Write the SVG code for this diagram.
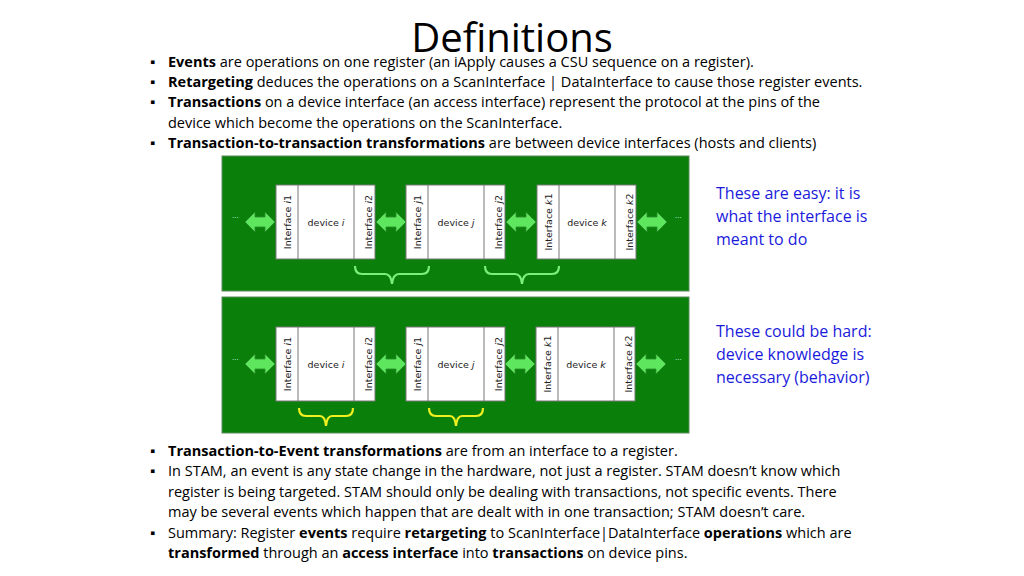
<svg xmlns="http://www.w3.org/2000/svg" width="1024" height="576" viewBox="0 0 1024 576">
<defs>
<style>
.t{font-family:"Open Sans","Liberation Sans",sans-serif;font-size:14.5px;fill:#000}
.b{font-weight:bold}
.bl{font-family:"Open Sans","Liberation Sans",sans-serif;font-size:16px;fill:#1a1adc}
.panel{fill:#0a800a;stroke:#5a8a5a;stroke-width:1}
.box{fill:#fff;stroke:#777;stroke-width:1}
.lbl{font-family:"DejaVu Sans","Liberation Sans",sans-serif;font-size:9.5px;fill:#222}
.arr{fill:#5ee65e;stroke:#2a8a2a;stroke-width:0.8}
.dots{font-family:"Liberation Sans",sans-serif;font-size:8px;fill:#cfe}
.br1{fill:none;stroke:#7cf07c;stroke-width:2.2}
.br2{fill:none;stroke:#f0f020;stroke-width:2.2}
</style>
<g id="dev">
<rect class="box" x="0" y="0" width="99" height="74"/>
<line x1="22" y1="0" x2="22" y2="74" stroke="#777"/>
<line x1="78" y1="0" x2="78" y2="74" stroke="#777"/>
</g>
<path id="arrow" class="arr" d="M0,0 L10,-10 L10,-5 L20,-5 L20,-10 L30,0 L20,10 L20,5 L10,5 L10,10 Z"/>
</defs>
<text x="512" y="52" text-anchor="middle" font-family="'Open Sans','Liberation Sans',sans-serif" font-size="40">Definitions</text>
<g class="t">
<text x="150" y="67">▪</text><text x="168" y="67"><tspan class="b">Events</tspan> are operations on one register (an iApply causes a CSU sequence on a register).</text>
<text x="150" y="87">▪</text><text x="168" y="87"><tspan class="b">Retargeting</tspan> deduces the operations on a ScanInterface | DataInterface to cause those register events.</text>
<text x="150" y="107">▪</text><text x="168" y="107"><tspan class="b">Transactions</tspan> on a device interface (an access interface) represent the protocol at the pins of the</text>
<text x="168" y="128">device which become the operations on the ScanInterface.</text>
<text x="150" y="148">▪</text><text x="168" y="148"><tspan class="b">Transaction-to-transaction transformations</tspan> are between device interfaces (hosts and clients)</text>
<text x="150" y="456">▪</text><text x="168" y="456"><tspan class="b">Transaction-to-Event transformations</tspan> are from an interface to a register.</text>
<text x="150" y="476">▪</text><text x="168" y="476">In STAM, an event is any state change in the hardware, not just a register.  STAM doesn’t know which</text>
<text x="168" y="497">register is being targeted.  STAM should only be dealing with transactions, not specific events.  There</text>
<text x="168" y="517">may be several events which happen that are dealt with in one transaction; STAM doesn’t care.</text>
<text x="150" y="538">▪</text><text x="168" y="538">Summary: Register <tspan class="b">events</tspan> require <tspan class="b">retargeting</tspan> to ScanInterface|DataInterface <tspan class="b">operations</tspan> which are</text>
<text x="168" y="558"><tspan class="b">transformed</tspan> through an <tspan class="b">access interface</tspan> into <tspan class="b">transactions</tspan> on device pins.</text>
</g>
<g id="panel1">
<rect class="panel" x="222" y="156" width="467" height="135"/>
<use href="#dev" x="276" y="185"/><use href="#dev" x="406" y="185"/><use href="#dev" x="537" y="185"/>
<use href="#arrow" x="245" y="222"/><use href="#arrow" x="376" y="222"/><use href="#arrow" x="506" y="222"/><use href="#arrow" x="637" y="222"/>
<text class="dots" x="232" y="218">...</text><text class="dots" x="675" y="218">...</text>
<g class="lbl">
<text transform="translate(291,222) rotate(-90)" text-anchor="middle">Interface <tspan font-style="italic">i</tspan>1</text>
<text x="326" y="226" text-anchor="middle">device <tspan font-style="italic">i</tspan></text>
<text transform="translate(372,222) rotate(-90)" text-anchor="middle">Interface <tspan font-style="italic">i</tspan>2</text>
<text transform="translate(421,222) rotate(-90)" text-anchor="middle">Interface <tspan font-style="italic">j</tspan>1</text>
<text x="456" y="226" text-anchor="middle">device <tspan font-style="italic">j</tspan></text>
<text transform="translate(502,222) rotate(-90)" text-anchor="middle">Interface <tspan font-style="italic">j</tspan>2</text>
<text transform="translate(552,222) rotate(-90)" text-anchor="middle">Interface <tspan font-style="italic">k</tspan>1</text>
<text x="587" y="226" text-anchor="middle">device <tspan font-style="italic">k</tspan></text>
<text transform="translate(633,222) rotate(-90)" text-anchor="middle">Interface <tspan font-style="italic">k</tspan>2</text>
</g>
<path class="br1" d="M355,266 Q355,274 362,274 L385,274 Q391,274 392,284 Q393,274 399,274 L422,274 Q429,274 429,266"/>
<path class="br1" d="M485,266 Q485,274 492,274 L515,274 Q521,274 522,284 Q523,274 529,274 L552,274 Q559,274 559,266"/>
</g>
<g id="panel2">
<rect class="panel" x="222" y="297" width="467" height="136"/>
<use href="#dev" x="276" y="327"/><use href="#dev" x="406" y="327"/><use href="#dev" x="536" y="327"/>
<use href="#arrow" x="245" y="364"/><use href="#arrow" x="376" y="364"/><use href="#arrow" x="505" y="364"/><use href="#arrow" x="636" y="364"/>
<text class="dots" x="232" y="360">...</text><text class="dots" x="675" y="360">...</text>
<g class="lbl">
<text transform="translate(291,364) rotate(-90)" text-anchor="middle">Interface <tspan font-style="italic">i</tspan>1</text>
<text x="326" y="368" text-anchor="middle">device <tspan font-style="italic">i</tspan></text>
<text transform="translate(372,364) rotate(-90)" text-anchor="middle">Interface <tspan font-style="italic">i</tspan>2</text>
<text transform="translate(421,364) rotate(-90)" text-anchor="middle">Interface <tspan font-style="italic">j</tspan>1</text>
<text x="456" y="368" text-anchor="middle">device <tspan font-style="italic">j</tspan></text>
<text transform="translate(502,364) rotate(-90)" text-anchor="middle">Interface <tspan font-style="italic">j</tspan>2</text>
<text transform="translate(551,364) rotate(-90)" text-anchor="middle">Interface <tspan font-style="italic">k</tspan>1</text>
<text x="586" y="368" text-anchor="middle">device <tspan font-style="italic">k</tspan></text>
<text transform="translate(632,364) rotate(-90)" text-anchor="middle">Interface <tspan font-style="italic">k</tspan>2</text>
</g>
<path class="br2" d="M299,408 Q299,416 306,416 L320,416 Q325,416 326,426 Q327,416 332,416 L346,416 Q353,416 353,408"/>
<path class="br2" d="M429,408 Q429,416 436,416 L450,416 Q455,416 456,426 Q457,416 462,416 L476,416 Q483,416 483,408"/>
</g>
<g class="bl">
<text x="716" y="199">These are easy: it is</text>
<text x="716" y="222">what the interface is</text>
<text x="716" y="245">meant to do</text>
<text x="716" y="337">These could be hard:</text>
<text x="716" y="360">device knowledge is</text>
<text x="716" y="383">necessary (behavior)</text>
</g>
</svg>
